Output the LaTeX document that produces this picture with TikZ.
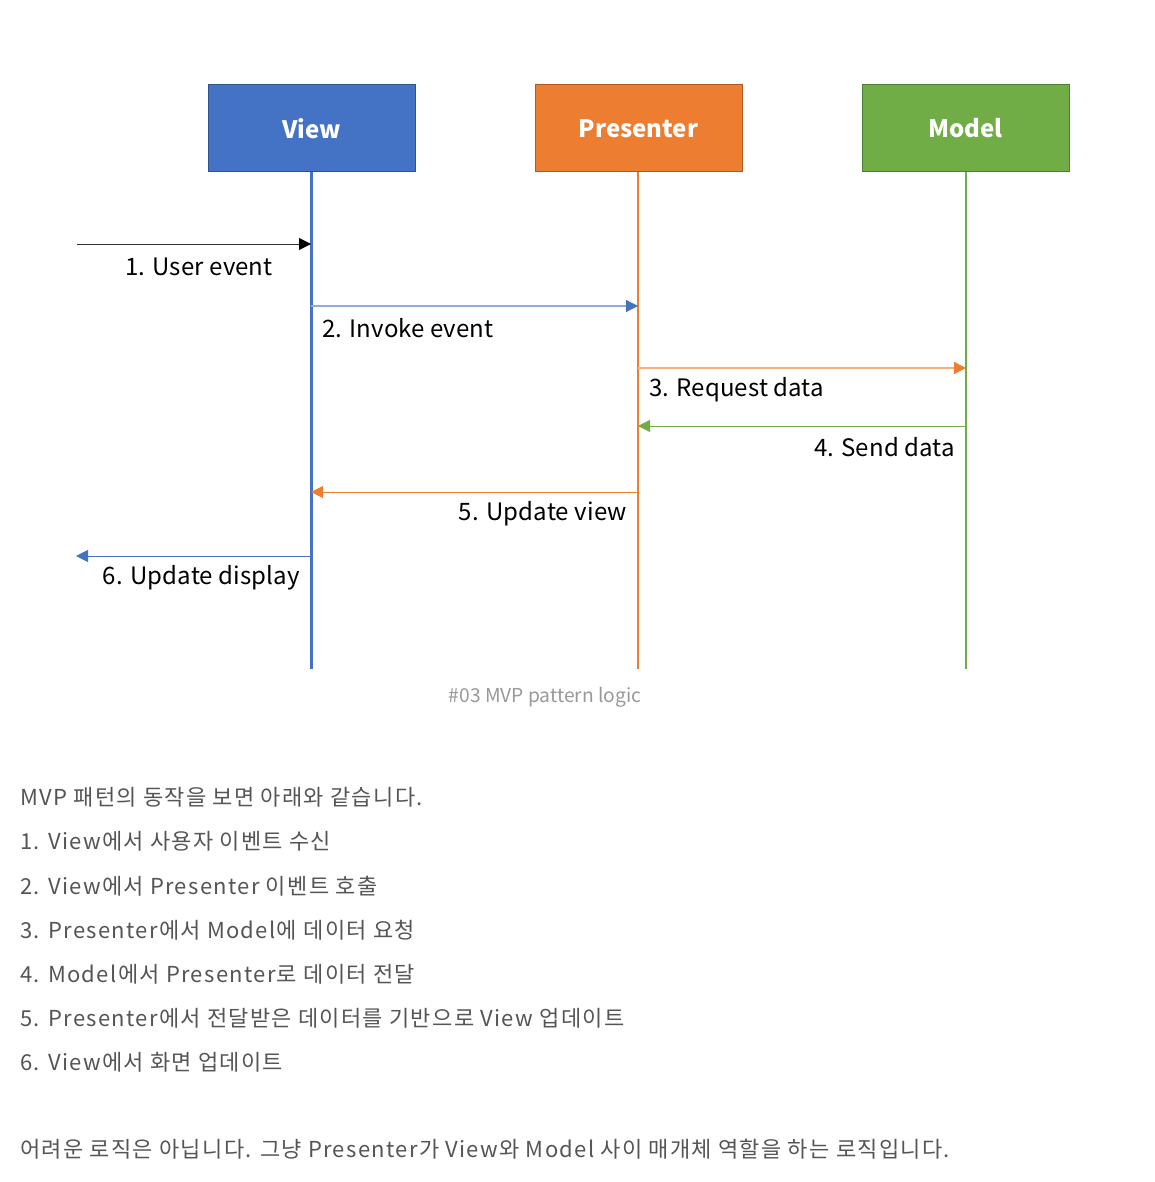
\documentclass[tikz,border=0pt]{standalone}
\usepackage{fontspec}
\setmainfont{Noto Sans CJK KR}
\usetikzlibrary{arrows.meta}
\definecolor{vblue}{HTML}{4472C4}
\definecolor{vblueline}{HTML}{8FAADC}
\definecolor{vblueborder}{HTML}{2F528F}
\definecolor{porange}{HTML}{ED7D31}
\definecolor{porangeline}{HTML}{F4B183}
\definecolor{porangeborder}{HTML}{AE5A21}
\definecolor{mgreen}{HTML}{70AD47}
\definecolor{mgreenborder}{HTML}{507E32}
\definecolor{captiongray}{HTML}{999999}
\definecolor{bodygray}{HTML}{555555}
\begin{document}
\begin{tikzpicture}[x=1pt,y=-1pt,
  actor/.style={minimum width=207pt,minimum height=87pt,inner sep=0pt,line width=1pt,
    text=white,font=\fontsize{24}{28}\selectfont\bfseries},
  msg/.style={font=\fontsize{24}{28}\selectfont\addfontfeatures{LetterSpace=0.5},inner sep=0pt,text=black},
  body/.style={font=\fontsize{22}{26}\selectfont\addfontfeatures{LetterSpace=6},inner sep=0pt,anchor=west,text=bodygray},
  head/.style={-{Triangle[length=12pt,width=12pt,color=#1]}}
]
\useasboundingbox (0,0) rectangle (1155,1182);
\fill[white] (0,0) rectangle (1155,1182);
% actors
\node[actor,fill=vblue,draw=vblueborder] (view) at (311.5,128.5) {View};
\node[actor,fill=porange,draw=porangeborder] (pres) at (638.5,128.5) {Presenter};
\node[actor,fill=mgreen,draw=mgreenborder] (model) at (965.5,128.5) {Model};
% lifeline ends
\coordinate (vend) at (311,669);
\coordinate (pend) at (638,669);
\coordinate (mend) at (966,669);
\draw[vblue,line width=3pt] (view.south -| vend) -- (vend);
\draw[porange,line width=2.3pt] (pres.south -| pend) -- (pend);
\draw[mgreen,line width=2.3pt] (model.south -| mend) -- (mend);
% message points
\coordinate (u1) at (77,244);
\coordinate (v1) at (311,244);
\coordinate (v2) at (311,306);
\coordinate (p2) at (638,306);
\coordinate (p3) at (638,368);
\coordinate (m3) at (966,368);
\coordinate (m4) at (966,426);
\coordinate (p4) at (638,426);
\coordinate (p5) at (638,492);
\coordinate (v5) at (311,492);
\coordinate (v6) at (311,556);
\coordinate (u6) at (76,556);
\draw[black!80,line width=0.9pt,head=black] (u1) -- (v1);
\draw[vblueline,line width=1.3pt,head=vblue] (v2) -- (p2);
\draw[porangeline,line width=1.3pt,head=porange] (p3) -- (m3);
\draw[mgreen,line width=1pt,head=mgreen] (m4) -- (p4);
\draw[porange,line width=1pt,head=porange] (p5) -- (v5);
\draw[vblue,line width=1pt,head=vblue] (v6) -- (u6);
% labels
\node[msg,anchor=east] (l1) at (273,267) {1. User event};
\node[msg,anchor=west] (l2) at (322,328) {2. Invoke event};
\node[msg,anchor=west] (l3) at (649,390) {3. Request data};
\node[msg,anchor=east] (l4) at (955,447) {4. Send data};
\node[msg,anchor=east] (l5) at (627,514) {5. Update view};
\node[msg,anchor=east] (l6) at (300,578) {6. Update display};
% caption
\node[font=\fontsize{19.2}{23}\selectfont,text=captiongray,inner sep=0pt] (cap) at (545,697) {\#03 MVP pattern logic};
% body text
\node[body] (t0) at (20,797) {MVP 패턴의 동작을 보면 아래와 같습니다.};
\node[body] (t1) at (20,841) {1. View에서 사용자 이벤트 수신};
\node[body] (t2) at (20,886) {2. View에서 Presenter 이벤트 호출};
\node[body] (t3) at (20,930) {3. Presenter에서 Model에 데이터 요청};
\node[body] (t4) at (20,974) {4. Model에서 Presenter로 데이터 전달};
\node[body] (t5) at (20,1018) {5. Presenter에서 전달받은 데이터를 기반으로 View 업데이트};
\node[body] (t6) at (20,1062) {6. View에서 화면 업데이트};
\node[body] (t7) at (20,1149) {어려운 로직은 아닙니다. 그냥 Presenter가 View와 Model 사이 매개체 역할을 하는 로직입니다.};
\end{tikzpicture}
\end{document}
